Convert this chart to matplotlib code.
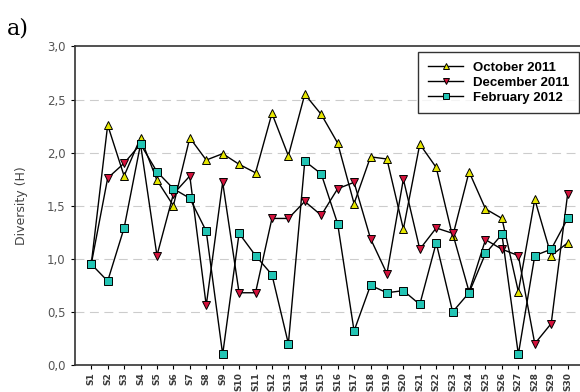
import matplotlib
matplotlib.use("Agg")
import matplotlib.pyplot as plt
from matplotlib.ticker import FuncFormatter

sites = [f"S{i}" for i in range(1, 31)]

october_2011 = [0.95, 2.26, 1.78, 2.14, 1.74, 1.50, 2.14, 1.93, 1.99, 1.89,
                1.81, 2.37, 1.97, 2.55, 2.36, 2.09, 1.52, 1.96, 1.94, 1.28,
                2.08, 1.86, 1.21, 1.82, 1.47, 1.38, 0.69, 1.56, 1.03, 1.15]
december_2011 = [0.95, 1.76, 1.90, 2.08, 1.03, 1.61, 1.78, 0.56, 1.72, 0.68,
                 0.68, 1.38, 1.38, 1.54, 1.41, 1.66, 1.72, 1.19, 0.86, 1.75,
                 1.09, 1.29, 1.24, 0.69, 1.18, 1.09, 1.03, 0.20, 0.39, 1.61]
february_2012 = [0.95, 0.79, 1.29, 2.08, 1.82, 1.66, 1.57, 1.26, 0.10, 1.24,
                 1.03, 0.85, 0.20, 1.92, 1.80, 1.33, 0.32, 0.75, 0.68, 0.70,
                 0.57, 1.15, 0.50, 0.68, 1.05, 1.23, 0.10, 1.03, 1.09, 1.38]

series = [
    ("October 2011", october_2011, "^", "#e6e600"),
    ("December 2011", december_2011, "v", "#d3123c"),
    ("February 2012", february_2012, "s", "#22c4b4"),
]

fig = plt.figure(figsize=(5.8, 3.92), dpi=100)
ax = fig.add_axes([0.129, 0.069, 0.878, 0.8125])

x = list(range(1, len(sites) + 1))
for label, vals, marker, color in series:
    ax.plot(x, vals, color="black", lw=1.0, marker=marker, markersize=5.8,
            markerfacecolor=color, markeredgecolor="black", markeredgewidth=0.7,
            label=label, zorder=3)

ax.set_xlim(0, 31)
ax.set_ylim(0, 3.0)
ax.set_yticks([0, 0.5, 1.0, 1.5, 2.0, 2.5, 3.0])
ax.yaxis.set_major_formatter(FuncFormatter(lambda v, p: f"{v:.1f}".replace(".", ",")))
ax.set_xticks(x)
ax.set_xticklabels(sites, rotation=90, fontsize=6.5, fontweight="semibold", color="#3a3a3a")
ax.tick_params(axis="y", labelsize=8.5, labelcolor="#555555", length=3, direction="out")
ax.tick_params(axis="x", length=3, direction="out", pad=2)

for yv in [0.5, 1.0, 1.5, 2.0, 2.5]:
    ax.axhline(yv, color="#cccccc", lw=0.8, ls=(0, (8, 5)), zorder=1)

for side in ["top", "left", "bottom", "right"]:
    ax.spines[side].set_color("#333333")
    ax.spines[side].set_linewidth(1.2)

ax.set_ylabel("Diversity (H)", fontsize=9, color="#444444", labelpad=14)

leg = ax.legend(loc="upper right", bbox_to_anchor=(0.9896, 0.9827), borderaxespad=0,
                frameon=True, fancybox=False, edgecolor="black",
                prop={"weight": "bold", "size": 9.5, "family": "Liberation Sans"},
                handlelength=2.65, handletextpad=0.75, borderpad=0.73,
                labelspacing=0.2, markerscale=0.75)
leg.get_frame().set_linewidth(1.0)

fig.text(0.012, 0.913, "a)", fontsize=16, family="DejaVu Serif", color="black")

fig.savefig("out.png", dpi=100)
